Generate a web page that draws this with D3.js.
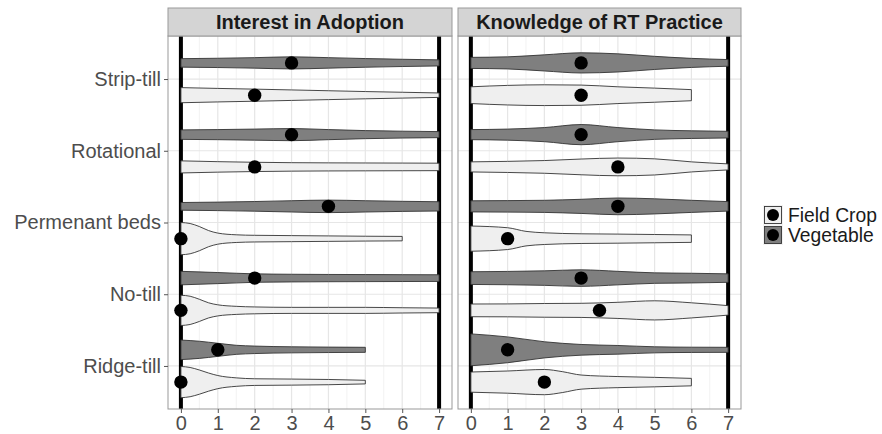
<!DOCTYPE html>
<html>
<head>
<meta charset="utf-8">
<script src="https://cdn.jsdelivr.net/npm/d3@7"></script>
<style>
  body { margin: 0; background: #fff; }
  text { font-family: "Liberation Sans", Arial, sans-serif; }
</style>
</head>
<body>
<svg id="chart" width="882" height="434"></svg>
<script>
// categories, top to bottom
const categories = ["Strip-till", "Rotational", "Permenant beds", "No-till", "Ridge-till"];
const groups = ["Field Crop", "Vegetable"];
const facets = ["Interest in Adoption", "Knowledge of RT Practice"];
const xTicks = [0, 1, 2, 3, 4, 5, 6, 7];

// medians (dots), one per category
const interestMedianVeg = [3, 3, 4, 2, 1];
const interestMedianField = [2, 2, 0, 0, 0];
const knowledgeMedianVeg = [3, 3, 4, 3, 1];
const knowledgeMedianField = [3, 4, 1, 3.5, 2];

// violin density profiles: [score, density] pairs, one list per category
const interestDensityVeg = [
  [[0, 4.2], [1, 4.6], [2, 5.2], [3, 6], [4, 5.2], [5, 4.3], [6, 3.6], [7, 3]],
  [[0, 4.7], [1, 5], [2, 5.5], [3, 6], [4, 5], [5, 4], [6, 3.4], [7, 3]],
  [[0, 3.8], [1, 4.2], [2, 4.8], [3, 5.6], [4, 6.2], [5, 5.6], [6, 5], [7, 4.6]],
  [[0, 6.7], [1, 5.5], [2, 4.2], [3, 3.8], [4, 3.6], [5, 3.5], [6, 3.4], [7, 3.3]],
  [[0, 9.7], [0.5, 8.5], [1, 6.5], [1.5, 4.5], [2, 3.7], [3, 3], [4, 2.7], [5, 2.5]]
];
const interestDensityField = [
  [[0, 7.5], [1, 6.7], [2, 6], [3, 5.2], [4, 4.4], [5, 3.6], [6, 2.9], [7, 2.2]],
  [[0, 6], [1, 5.2], [2, 4.6], [3, 4.2], [4, 4], [5, 3.9], [6, 3.8], [7, 3.7]],
  [[0, 16], [0.25, 15], [0.5, 12], [0.75, 8], [1, 5.5], [1.5, 3.8], [2, 3.3], [3, 3], [4, 2.7], [5, 2.4], [6, 2.2]],
  [[0, 15], [0.25, 14], [0.5, 11], [0.75, 7.5], [1, 5.5], [1.5, 4], [2, 3.4], [3, 3], [4, 3], [5, 3], [6, 2.6], [7, 2.3]],
  [[0, 15.5], [0.25, 14.5], [0.5, 12], [0.75, 9], [1, 6.5], [1.5, 4.2], [2, 3.3], [3, 3], [4, 2.6], [5, 1.8]]
];
const knowledgeDensityVeg = [
  [[0, 5.5], [1, 6], [2, 8], [3, 10], [4, 9], [5, 6.5], [6, 4.5], [7, 3.3]],
  [[0, 5], [1, 5.5], [2, 7], [3, 10], [4, 7], [5, 4.7], [6, 3.8], [7, 3.3]],
  [[0, 5.5], [1, 5.7], [2, 6], [3, 7], [4, 8.3], [5, 7.5], [6, 6], [7, 4.7]],
  [[0, 6.3], [1, 6.6], [2, 7.2], [3, 8.2], [4, 6.7], [5, 5.2], [6, 4.8], [7, 4.2]],
  [[0, 15.8], [1, 12.8], [2, 8], [3, 5.3], [4, 4.3], [5, 3], [6, 2.6], [7, 2.5]]
];
const knowledgeDensityField = [
  [[0, 8.3], [1, 9.7], [2, 10.3], [3, 10], [4, 8.3], [5, 7], [6, 5.5]],
  [[0, 5], [1, 5.5], [2, 6.3], [3, 7.8], [4, 8.8], [5, 8], [6, 5], [7, 3]],
  [[0, 12.5], [1, 10.8], [1.5, 7.2], [2, 5.8], [3, 4.8], [4, 4.5], [5, 4.1], [6, 3.7]],
  [[0, 6.3], [1, 6.4], [2, 6.8], [3, 7], [4, 8], [5, 9.5], [6, 7.5], [7, 4.7]],
  [[0, 10], [1, 11], [2, 12.5], [2.5, 10.3], [3, 7], [4, 5.5], [5, 4.7], [6, 3.7]]
];

const facetData = [
  { title: facets[0], veg: interestDensityVeg, field: interestDensityField, medVeg: interestMedianVeg, medField: interestMedianField },
  { title: facets[1], veg: knowledgeDensityVeg, field: knowledgeDensityField, medVeg: knowledgeMedianVeg, medField: knowledgeMedianField }
];

const fillField = "#efefef";
const fillVeg = "#7f7f7f";

const svg = d3.select("#chart");

const panelTop = 36, panelBottom = 409;
const panels = [{ left: 168, right: 452 }, { left: 458, right: 741 }];

const y = d3.scalePoint()
  .domain(categories)
  .range([panelTop, panelBottom])
  .padding(0.6);
const step = y.step();
const dodge = 0.225 * step;
const w = d3.scaleLinear().domain([0, 16]).range([0, 0.225 * step]);

facetData.forEach((f, pi) => {
  const p = panels[pi];
  const x = d3.scaleLinear().domain([-0.35, 7.35]).range([p.left, p.right]);
  const g = svg.append("g");

  // panel background
  g.append("rect")
    .attr("x", p.left).attr("y", panelTop)
    .attr("width", p.right - p.left).attr("height", panelBottom - panelTop)
    .attr("fill", "#fff");

  // minor grid
  d3.range(0.5, 7, 1).forEach(v => {
    g.append("line")
      .attr("x1", x(v)).attr("x2", x(v))
      .attr("y1", panelTop).attr("y2", panelBottom)
      .attr("stroke", "#f2f2f2").attr("stroke-width", 1);
  });
  // major grid
  xTicks.forEach(v => {
    g.append("line")
      .attr("x1", x(v)).attr("x2", x(v))
      .attr("y1", panelTop).attr("y2", panelBottom)
      .attr("stroke", "#e6e6e6").attr("stroke-width", 1.2);
  });
  categories.forEach(c => {
    g.append("line")
      .attr("x1", p.left).attr("x2", p.right)
      .attr("y1", y(c)).attr("y2", y(c))
      .attr("stroke", "#e6e6e6").attr("stroke-width", 1.2);
  });

  // thick reference lines at 0 and 7
  [0, 7].forEach(v => {
    g.append("line")
      .attr("x1", x(v)).attr("x2", x(v))
      .attr("y1", panelTop).attr("y2", panelBottom)
      .attr("stroke", "#000").attr("stroke-width", 4);
  });

  // violins
  const drawViolin = (profile, cy, fill) => {
    const area = d3.area()
      .x(d => x(d[0]))
      .y0(d => cy - w(d[1]))
      .y1(d => cy + w(d[1]))
      .curve(d3.curveMonotoneX);
    g.append("path")
      .attr("d", area(profile))
      .attr("fill", fill)
      .attr("stroke", "#333")
      .attr("stroke-width", 0.9);
  };

  categories.forEach((c, i) => {
    drawViolin(f.veg[i], y(c) - dodge, fillVeg);
    drawViolin(f.field[i], y(c) + dodge, fillField);
  });
  categories.forEach((c, i) => {
    g.append("circle")
      .attr("cx", x(f.medVeg[i])).attr("cy", y(c) - dodge)
      .attr("r", 6.7).attr("fill", "#000");
    g.append("circle")
      .attr("cx", x(f.medField[i])).attr("cy", y(c) + dodge)
      .attr("r", 6.7).attr("fill", "#000");
  });

  // panel border
  g.append("rect")
    .attr("x", p.left).attr("y", panelTop)
    .attr("width", p.right - p.left).attr("height", panelBottom - panelTop)
    .attr("fill", "none").attr("stroke", "#999").attr("stroke-width", 1);

  // strip
  g.append("rect")
    .attr("x", p.left).attr("y", 8)
    .attr("width", p.right - p.left).attr("height", panelTop - 8)
    .attr("fill", "#d4d4d4").attr("stroke", "#999").attr("stroke-width", 1);
  g.append("text")
    .attr("x", (p.left + p.right) / 2).attr("y", 29)
    .attr("text-anchor", "middle")
    .attr("font-size", 20).attr("font-weight", "bold")
    .attr("fill", "#1a1a1a")
    .text(f.title);

  // x axis
  const xAxis = g.append("g")
    .attr("transform", `translate(0,${panelBottom})`)
    .call(d3.axisBottom(x).tickValues(xTicks).tickSize(4).tickPadding(3).tickFormat(d3.format("d")));
  xAxis.select(".domain").remove();
  xAxis.selectAll("line").attr("stroke", "#555");
  xAxis.selectAll("text").attr("font-size", 20).attr("fill", "#4d4d4d")
    .style("font-family", "'Liberation Sans', Arial, sans-serif");
});

// y axis on the left panel
const yAxis = svg.append("g")
  .attr("transform", `translate(${panels[0].left},0)`)
  .call(d3.axisLeft(y).tickSize(4).tickPadding(3));
yAxis.select(".domain").remove();
yAxis.selectAll("line").attr("stroke", "#555");
yAxis.selectAll("text").attr("font-size", 20).attr("fill", "#4d4d4d")
  .style("font-family", "'Liberation Sans', Arial, sans-serif");

// legend
const legend = svg.append("g").attr("transform", "translate(763,205)");
const legendFills = [fillField, fillVeg];
groups.forEach((name, i) => {
  const row = legend.append("g").attr("transform", `translate(0,${i * 20})`);
  row.append("rect")
    .attr("width", 20).attr("height", 20)
    .attr("fill", "#f2f2f2").attr("stroke", "none");
  row.append("rect")
    .attr("x", 1.5).attr("y", 1.5).attr("width", 17).attr("height", 17)
    .attr("fill", legendFills[i]).attr("stroke", "#333").attr("stroke-width", 0.9);
  row.append("circle")
    .attr("cx", 10).attr("cy", 10).attr("r", 6)
    .attr("fill", "#000");
  row.append("text")
    .attr("x", 25).attr("y", 17)
    .attr("font-size", 19.3).attr("fill", "#1a1a1a")
    .text(name);
});
</script>
</body>
</html>
